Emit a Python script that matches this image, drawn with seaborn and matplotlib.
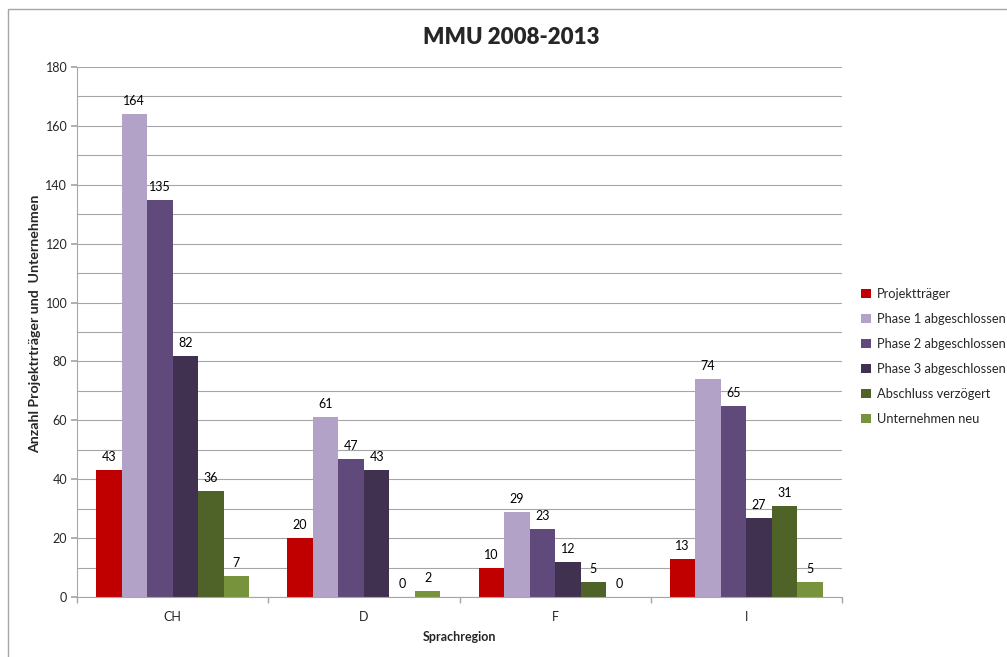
import matplotlib
matplotlib.use("Agg")
import matplotlib.pyplot as plt
import seaborn as sns
import pandas as pd
from matplotlib.patches import Rectangle
from matplotlib.ticker import MultipleLocator, FixedLocator

regions = ["CH", "D", "F", "I"]
series = ["Projektträger", "Phase 1 abgeschlossen", "Phase 2 abgeschlossen",
          "Phase 3 abgeschlossen", "Abschluss verzögert", "Unternehmen neu"]
projekttraeger = [43, 20, 10, 13]
phase1 = [164, 61, 29, 74]
phase2 = [135, 47, 23, 65]
phase3 = [82, 43, 12, 27]
abschluss = [36, 0, 5, 31]
unternehmen = [7, 2, 0, 5]
colors = ["#C00000", "#B3A2C7", "#604A7B", "#403151", "#4F6228", "#77933C"]

values = [projekttraeger, phase1, phase2, phase3, abschluss, unternehmen]
rows = []
for s, vals in zip(series, values):
    for r, v in zip(regions, vals):
        rows.append({"Sprachregion": r, "Serie": s, "Wert": v})
df = pd.DataFrame(rows)

sns.set_theme(style="white")
plt.rcParams["font.family"] = ["Lato", "DejaVu Sans"]

fig = plt.figure(figsize=(10.07, 6.57), dpi=100)
ax = fig.add_axes([77 / 1007, 1 - 597 / 657, (842 - 77) / 1007, (597 - 67) / 657])

sns.barplot(data=df, x="Sprachregion", y="Wert", hue="Serie", order=regions,
            hue_order=series, palette=colors, width=0.8, ax=ax,
            edgecolor="none", linewidth=0, saturation=1, legend=True)

for cont in ax.containers:
    ax.bar_label(cont, padding=5, fontsize=9, color="#000000")

ax.set_ylim(0, 180)
ax.set_xlim(-0.5, 3.5)
ax.yaxis.set_major_locator(MultipleLocator(20))
ax.yaxis.set_minor_locator(MultipleLocator(10))
ax.grid(axis="y", which="both", color="#A6A6A6", linewidth=0.8)
ax.set_axisbelow(True)
ax.tick_params(axis="y", which="major", length=4, color="#A6A6A6", labelsize=9, pad=3, direction="out", left=True)
ax.tick_params(axis="y", which="minor", length=0)
ax.xaxis.set_minor_locator(FixedLocator([-0.5, 0.5, 1.5, 2.5, 3.5]))
ax.tick_params(axis="x", which="major", length=0, labelsize=9, pad=10)
ax.tick_params(axis="x", which="minor", length=4, color="#A6A6A6", bottom=True, direction="out")
for sp in ["top", "right"]:
    ax.spines[sp].set_visible(False)
for sp in ["left", "bottom"]:
    ax.spines[sp].set_color("#A6A6A6")
    ax.spines[sp].set_linewidth(0.8)

ax.set_xlabel("Sprachregion", fontsize=9, fontweight="bold", labelpad=6)
ax.set_ylabel("Anzahl Projektrträger und  Unternehmen", fontsize=10.2, fontweight="bold")
ax.yaxis.set_label_coords(-0.047, (597 - 324) / 530)

fig.text(0.508, 1 - 38 / 657, "MMU 2008-2013", ha="center", va="center",
         fontsize=16, fontweight="heavy")

leg = ax.legend(loc="upper left", bbox_to_anchor=(856 / 1007, 1 - 283 / 657),
                bbox_transform=fig.transFigure, frameon=False, fontsize=9.3,
                handlelength=0.75, handleheight=0.75, handletextpad=0.45,
                labelspacing=1.0, borderaxespad=0)

fig.patches.append(Rectangle((7.5 / 1007, -0.1), 1.2, 1 - 8.5 / 657 + 0.1,
                             transform=fig.transFigure, fill=False,
                             edgecolor="#A6A6A6", linewidth=1.0))

fig.savefig("out.png", dpi=100, facecolor="white")
